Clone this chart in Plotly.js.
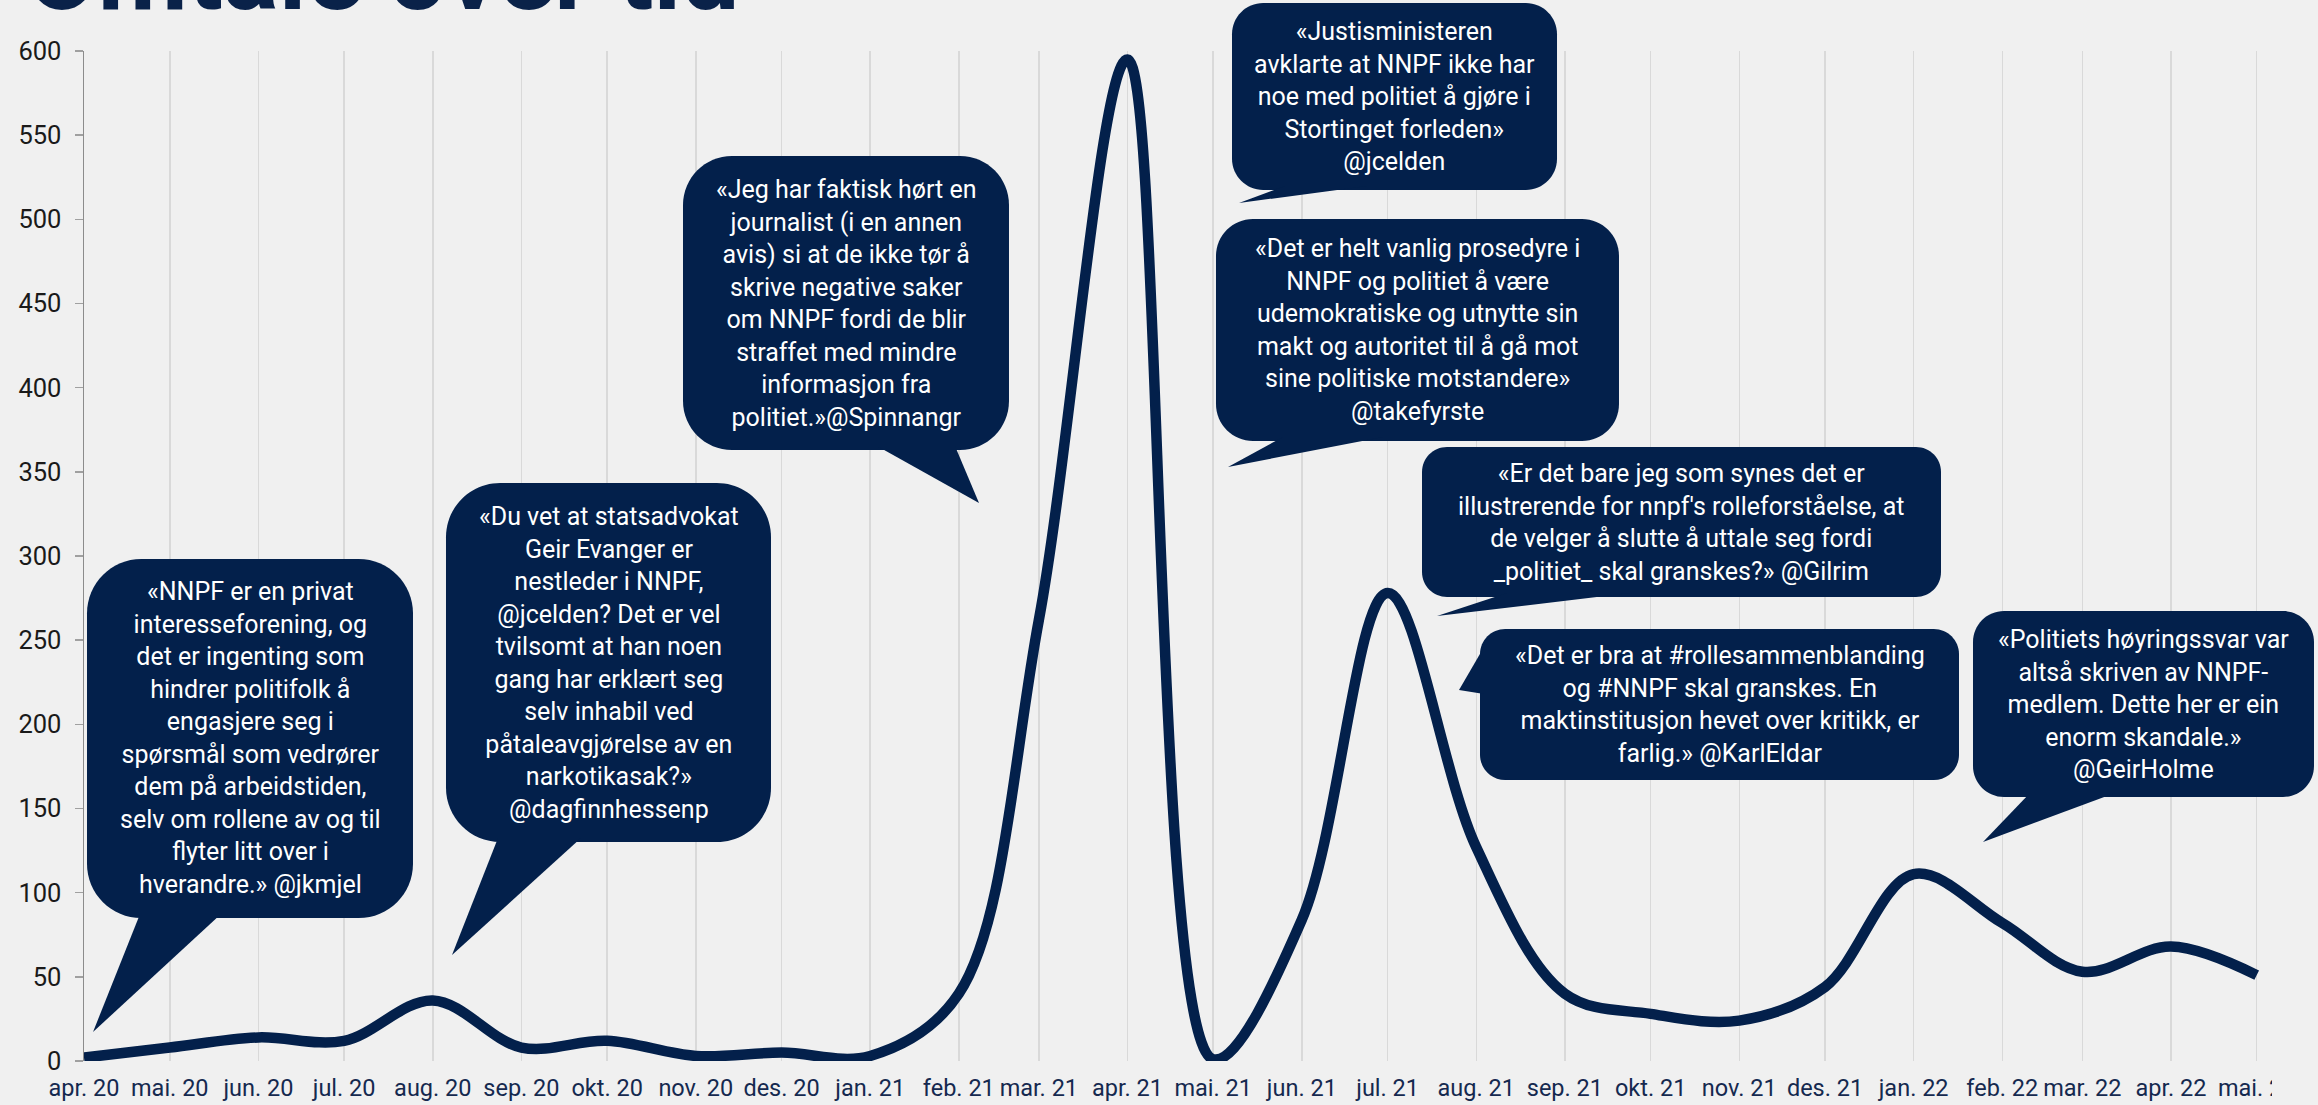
<!DOCTYPE html>
<html>
<head>
<meta charset="utf-8">
<script src="https://cdn.plot.ly/plotly-3.0.1.min.js"></script>
<style>html,body{margin:0;padding:0;background:#f0f0f0;}#chart{width:2318px;height:1105px;}</style>
</head>
<body>
<div id="chart"></div>
<script>
// ---- data ----
const monthDates = ["2020-04-01","2020-05-01","2020-06-01","2020-07-01","2020-08-01","2020-09-01","2020-10-01","2020-11-01","2020-12-01",
  "2021-01-01","2021-02-01","2021-03-01","2021-04-01","2021-05-01","2021-06-01","2021-07-01","2021-08-01","2021-09-01","2021-10-01","2021-11-01","2021-12-01",
  "2022-01-01","2022-02-01","2022-03-01","2022-04-01","2022-05-01"];
const monthLabels = ["apr. 20","mai. 20","jun. 20","jul. 20","aug. 20","sep. 20","okt. 20","nov. 20","des. 20",
  "jan. 21","feb. 21","mar. 21","apr. 21","mai. 21","jun. 21","jul. 21","aug. 21","sep. 21","okt. 21","nov. 21","des. 21",
  "jan. 22","feb. 22","mar. 22","apr. 22","mai. 22"];
const mentions = [2, 8, 14, 12, 36, 8, 12, 3, 5, 3, 40, 262, 595, 1, 84, 278, 127, 40, 28, 24, 44, 111, 82, 53, 68, 51];
const yTicks = [0,50,100,150,200,250,300,350,400,450,500,550,600];
const titleText = "Omtale over tid";
const quotes = [
  "«NNPF er en privat<br>interesseforening, og<br>det er ingenting som<br>hindrer politifolk å<br>engasjere seg i<br>spørsmål som vedrører<br>dem på arbeidstiden,<br>selv om rollene av og til<br>flyter litt over i<br>hverandre.» @jkmjel",
  "«Du vet at statsadvokat<br>Geir Evanger er<br>nestleder i NNPF,<br>@jcelden? Det er vel<br>tvilsomt at han noen<br>gang har erklært seg<br>selv inhabil ved<br>påtaleavgjørelse av en<br>narkotikasak?»<br>@dagfinnhessenp",
  "«Jeg har faktisk hørt en<br>journalist (i en annen<br>avis) si at de ikke tør å<br>skrive negative saker<br>om NNPF fordi de blir<br>straffet med mindre<br>informasjon fra<br>politiet.»@Spinnangr",
  "«Justisministeren<br>avklarte at NNPF ikke har<br>noe med politiet å gjøre i<br>Stortinget forleden»<br>@jcelden",
  "«Det er helt vanlig prosedyre i<br>NNPF og politiet å være<br>udemokratiske og utnytte sin<br>makt og autoritet til å gå mot<br>sine politiske motstandere»<br>@takefyrste",
  "«Er det bare jeg som synes det er<br>illustrerende for nnpf's rolleforståelse, at<br>de velger å slutte å uttale seg fordi<br>_politiet_ skal granskes?» @Gilrim",
  "«Det er bra at #rollesammenblanding<br>og #NNPF skal granskes. En<br>maktinstitusjon hevet over kritikk, er<br>farlig.» @KarlEldar",
  "«Politiets høyringssvar var<br>altså skriven av NNPF-<br>medlem. Dette her er ein<br>enorm skandale.»<br>@GeirHolme"
];

// ---- layout geometry (pixels) ----
const W = 2318, H = 1105;
const L = 84, R = 2271, T = 51, B = 1061;
const px2x = p => (p - L) / (R - L);
const px2y = p => (B - p) / (B - T);
const NAVY = "#03204b";
const BG = "#f0f0f0";

// bubble boxes: [x0,y0,x1,y1] and tail: [ax,ay,bx,by,tipx,tipy]
const bubbleBoxes = [
  [87, 559, 413, 918], [446, 483, 771, 842], [683, 156, 1009, 450], [1232, 3, 1557, 190],
  [1216, 219, 1619, 441], [1422, 447, 1941, 597], [1480, 629, 1959, 780], [1973, 611, 2314, 797]
];
const bubbleTails = [
  [140, 914, 221, 914, 93, 1032], [498, 838, 581, 838, 452, 955], [877, 446, 955, 446, 979, 503],
  [1285, 186, 1367, 186, 1239, 203], [1283, 437, 1383, 437, 1228, 467], [1507, 593, 1630, 593, 1437, 616],
  [1484, 647, 1484, 694, 1459, 690], [2030, 793, 2115, 793, 1983, 842]
];

function P(x, y) { return px2x(x).toFixed(5) + "," + px2y(y).toFixed(5); }
function roundRect(b) {
  const [x0, y0, x1, y1] = b;
  const r = Math.min(x1 - x0, y1 - y0) * 0.1667, k = 0.5523 * r;
  return "M" + P(x0 + r, y0) + " L" + P(x1 - r, y0) +
    " C" + P(x1 - r + k, y0) + " " + P(x1, y0 + r - k) + " " + P(x1, y0 + r) +
    " L" + P(x1, y1 - r) +
    " C" + P(x1, y1 - r + k) + " " + P(x1 - r + k, y1) + " " + P(x1 - r, y1) +
    " L" + P(x0 + r, y1) +
    " C" + P(x0 + r - k, y1) + " " + P(x0, y1 - r + k) + " " + P(x0, y1 - r) +
    " L" + P(x0, y0 + r) +
    " C" + P(x0, y0 + r - k) + " " + P(x0 + r - k, y0) + " " + P(x0 + r, y0) + " Z";
}
function tail(t) { return "M" + P(t[0], t[1]) + " L" + P(t[4], t[5]) + " L" + P(t[2], t[3]) + " Z"; }

const shapes = [];
const annotations = [];
bubbleBoxes.forEach((b, i) => {
  shapes.push({type: "path", xref: "paper", yref: "paper", path: roundRect(b), fillcolor: NAVY, line: {width: 0}, layer: "above"});
  shapes.push({type: "path", xref: "paper", yref: "paper", path: tail(bubbleTails[i]), fillcolor: NAVY, line: {width: 0}, layer: "above"});
  annotations.push({
    xref: "paper", yref: "paper", x: px2x((b[0] + b[2]) / 2), y: px2y((b[1] + b[3]) / 2),
    xanchor: "center", yanchor: "middle", showarrow: false, align: "center",
    text: quotes[i], font: {family: "Roboto, sans-serif", size: 25, color: "#ffffff"}
  });
});
// cover right edge of axis labels (clipped chart area)
shapes.push({type: "rect", xref: "paper", yref: "paper", x0: px2x(2272), x1: px2x(W + 2), y0: px2y(H + 2), y1: px2y(B + 1),
  fillcolor: BG, line: {width: 0}, layer: "above"});
// title
annotations.push({
  xref: "paper", yref: "paper", x: px2x(24), y: px2y(36), xanchor: "left", yanchor: "bottom", showarrow: false,
  text: "<b>" + titleText + "</b>", font: {family: "Roboto, sans-serif", size: 104, color: "#0a2249", weight: 900}
});

const trace = {
  type: "scatter", mode: "lines", x: monthDates, y: mentions,
  line: {shape: "spline", smoothing: 1, width: 10.5, color: NAVY},
  hoverinfo: "skip", cliponaxis: true
};

const layout = {
  width: W, height: H,
  margin: {l: L, r: W - R, t: T, b: H - B},
  paper_bgcolor: BG, plot_bgcolor: BG,
  showlegend: false,
  font: {family: "Roboto, sans-serif"},
  xaxis: {
    type: "date", range: ["2020-04-01", "2022-05-06"],
    tickmode: "array", tickvals: monthDates, ticktext: monthLabels,
    showgrid: true, gridcolor: "#d9d9d9", gridwidth: 1.5,
    showline: false, zeroline: false, ticks: "",
    tickfont: {family: "Roboto, sans-serif", size: 23.5, color: "#15294f"},
    ticklabelstandoff: 10, fixedrange: true
  },
  yaxis: {
    range: [0, 600], tickmode: "array", tickvals: yTicks,
    showgrid: false, zeroline: false,
    showline: true, linecolor: "#8c8c8c", linewidth: 1.5,
    ticks: "outside", ticklen: 8, tickcolor: "#a0a0a0", tickwidth: 1.5,
    tickfont: {family: "Roboto, sans-serif", size: 25.5, color: "#1a1a1a"},
    ticklabelstandoff: 8, fixedrange: true
  },
  shapes: shapes,
  annotations: annotations
};

Plotly.newPlot("chart", [trace], layout, {displayModeBar: false, staticPlot: true});
</script>
</body>
</html>
